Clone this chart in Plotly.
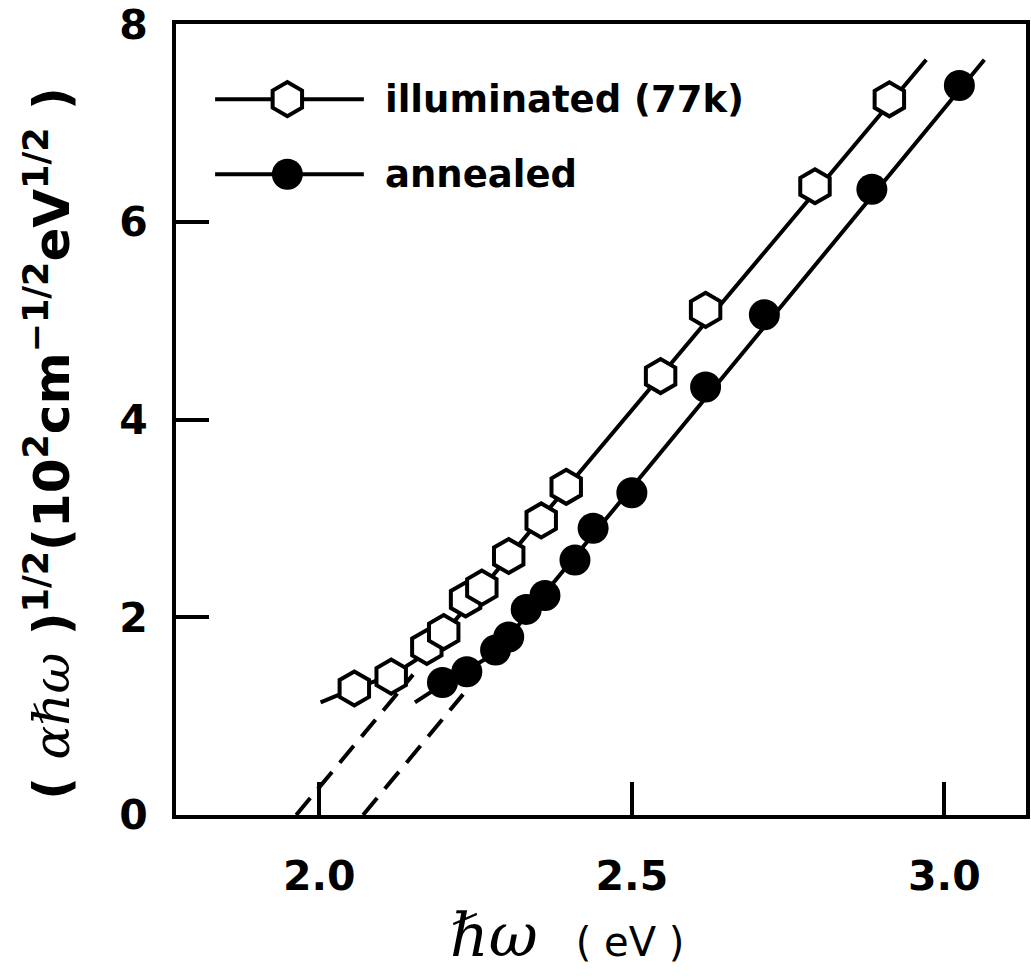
import plotly.graph_objects as go

# ---- data ----
illum_x = [2.056, 2.115, 2.172, 2.199, 2.234, 2.260, 2.303, 2.355, 2.395, 2.546, 2.618, 2.793, 2.912]
illum_y = [1.28, 1.40, 1.70, 1.85, 2.18, 2.30, 2.62, 2.98, 3.32, 4.44, 5.11, 6.36, 7.24]
anneal_x = [2.197, 2.236, 2.282, 2.303, 2.331, 2.361, 2.409, 2.438, 2.500, 2.618, 2.712, 2.884, 3.024]
anneal_y = [1.34, 1.45, 1.67, 1.80, 2.08, 2.22, 2.58, 2.90, 3.26, 4.33, 5.06, 6.33, 7.38]

illum_fit_x = [2.002, 2.056, 2.115, 2.175, 2.971]
illum_fit_y = [1.14, 1.28, 1.41, 1.65, 7.64]
illum_ext_x = [1.963, 2.150]
illum_ext_y = [0.0, 1.42]

anneal_fit_x = [2.153, 2.197, 2.282, 3.064]
anneal_fit_y = [1.14, 1.32, 1.64, 7.64]
anneal_ext_x = [2.070, 2.230]
anneal_ext_y = [0.0, 1.22]

x_ticks = [2.0, 2.5, 3.0]
y_ticks = [0, 2, 4, 6, 8]
series_names = ["illuminated (77k)", "annealed"]

FONT = "DejaVu Sans"
BLACK = "black"

fig = go.Figure()

# dashed extrapolations
for ex, ey in [(illum_ext_x, illum_ext_y), (anneal_ext_x, anneal_ext_y)]:
    fig.add_trace(go.Scatter(x=ex, y=ey, mode="lines",
                             line=dict(color=BLACK, width=4, dash="22px,12px"),
                             showlegend=False, hoverinfo="skip"))

# solid fit lines
for fx, fy in [(illum_fit_x, illum_fit_y), (anneal_fit_x, anneal_fit_y)]:
    fig.add_trace(go.Scatter(x=fx, y=fy, mode="lines",
                             line=dict(color=BLACK, width=4),
                             showlegend=False, hoverinfo="skip"))

# markers
fig.add_trace(go.Scatter(x=illum_x, y=illum_y, mode="markers", name=series_names[0],
                         marker=dict(symbol="hexagon", size=34, color="white",
                                     line=dict(color=BLACK, width=4)),
                         showlegend=False))
fig.add_trace(go.Scatter(x=anneal_x, y=anneal_y, mode="markers", name=series_names[1],
                         marker=dict(symbol="circle", size=31, color=BLACK,
                                     line=dict(color=BLACK, width=0)),
                         showlegend=False))

# hand-drawn style legend on an overlay axis (0..1 fraction of plot area)
leg_rows = [0.905, 0.810]
leg_styles = [
    dict(symbol="hexagon", size=34, color="white", line=dict(color=BLACK, width=4)),
    dict(symbol="circle", size=31, color=BLACK, line=dict(color=BLACK, width=0)),
]
for row, style, name in zip(leg_rows, leg_styles, series_names):
    fig.add_trace(go.Scatter(x=[0.046, 0.221], y=[row, row], mode="lines",
                             line=dict(color=BLACK, width=4),
                             xaxis="x2", yaxis="y2", showlegend=False, hoverinfo="skip"))
    fig.add_trace(go.Scatter(x=[0.131], y=[row], mode="markers", marker=style,
                             xaxis="x2", yaxis="y2", showlegend=False, hoverinfo="skip"))
    fig.add_annotation(x=0.244, y=row, xref="x2", yref="y2", text=name, showarrow=False,
                       xanchor="left", yanchor="middle",
                       font=dict(family=FONT, size=37, color=BLACK, weight="bold"))

axis_common = dict(showline=True, linecolor=BLACK, linewidth=4, mirror=True,
                   ticks="inside", ticklen=33, tickwidth=4, tickcolor=BLACK,
                   showgrid=False, zeroline=False, ticklabeloverflow="allow",
                   tickfont=dict(family=FONT, size=41, color=BLACK, weight="bold"))

fig.update_layout(
    width=1031, height=977,
    margin=dict(l=176, r=1, t=16, b=162),
    paper_bgcolor="white", plot_bgcolor="white",
    xaxis=dict(range=[1.7707, 3.1306], tickvals=x_ticks, tickformat=".1f",
               ticklabelstandoff=22, **axis_common),
    yaxis=dict(range=[0, 8.002], tickvals=y_ticks, ticklabelstandoff=16, **axis_common),
    xaxis2=dict(range=[0, 1], overlaying="x", visible=False, fixedrange=True),
    yaxis2=dict(range=[0, 1], overlaying="y", visible=False, fixedrange=True),
    showlegend=False,
)

# axis titles
fig.add_annotation(
    x=0.46, y=-0.152, xref="paper", yref="paper", showarrow=False,
    xanchor="center", yanchor="middle",
    text='<span style="font-family:DejaVu Serif;font-style:italic;font-size:60px">ℏω</span>'
         '<span style="font-size:40px">   ( eV )</span>',
    font=dict(family=FONT, size=40, color=BLACK),
)
fig.add_annotation(
    x=-0.150, y=0.47, xref="paper", yref="paper", showarrow=False, textangle=-90,
    xanchor="center", yanchor="middle",
    text='( <span style="font-family:DejaVu Serif;font-style:italic;font-weight:normal">αℏω</span> )'
         '<sup>1/2</sup>(10<sup>2</sup>cm<sup>−1/2</sup>eV<sup>1/2</sup> )',
    font=dict(family=FONT, size=50, color=BLACK, weight="bold"),
)

fig.write_html("out.html", config={"displayModeBar": False},
               post_script="document.body.style.margin='0px';")
